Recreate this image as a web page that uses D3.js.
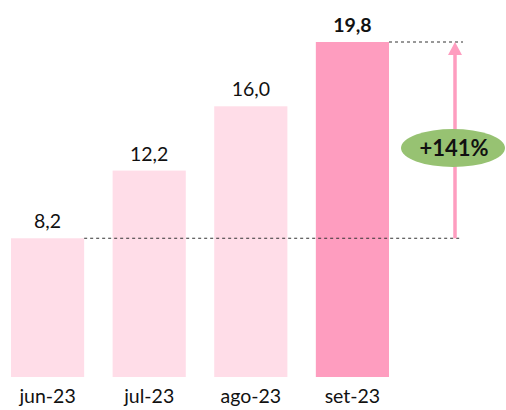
<!DOCTYPE html>
<html>
<head>
<meta charset="utf-8">
<script src="https://cdn.jsdelivr.net/npm/d3@7"></script>
<style>
  body { margin: 0; background: #fff; }
  svg text { font-family: Lato, "Noto Sans", sans-serif; fill: #111; }
</style>
</head>
<body>
<svg id="grafico" width="506" height="410"></svg>
<script>
const meses = ["jun-23", "jul-23", "ago-23", "set-23"];
const valores = [8.2, 12.2, 16.0, 19.8];
const rotulos = ["8,2", "12,2", "16,0", "19,8"];
const variacao = "+141%";

const svg = d3.select("#grafico");
const baseY = 377;

const xScale = d3.scaleBand()
    .domain(meses)
    .range([11, 389])
    .paddingInner(0.28)
    .paddingOuter(0);

const yScale = d3.scaleLinear()
    .domain([0, 19.8])
    .range([baseY, 42]);

const dados = meses.map((m, i) => ({ mes: m, valor: valores[i], rotulo: rotulos[i] }));

// barras
svg.selectAll("rect.barra")
    .data(dados)
    .enter()
    .append("rect")
    .attr("class", "barra")
    .attr("x", d => xScale(d.mes))
    .attr("y", d => yScale(d.valor))
    .attr("width", xScale.bandwidth())
    .attr("height", d => baseY - yScale(d.valor))
    .attr("fill", (d, i) => i === dados.length - 1 ? "#fe9dbf" : "#ffdde8");

// rotulos de valor
svg.selectAll("text.valor")
    .data(dados)
    .enter()
    .append("text")
    .attr("class", "valor")
    .attr("x", d => xScale(d.mes) + xScale.bandwidth() / 2)
    .attr("y", d => yScale(d.valor) - 10)
    .attr("text-anchor", "middle")
    .attr("font-size", 19.5)
    .attr("font-weight", (d, i) => i === dados.length - 1 ? "bold" : "normal")
    .text(d => d.rotulo);

// eixo x
const xAxis = d3.axisBottom(xScale).tickSize(0).tickPadding(12);
const gx = svg.append("g")
    .attr("transform", `translate(0, ${baseY})`)
    .call(xAxis);
gx.select(".domain").remove();
gx.selectAll("text")
    .attr("font-size", 19.5)
    .attr("fill", "#111")
    .style("font-family", "Lato, 'Noto Sans', sans-serif");

// linhas tracejadas
const primeiro = dados[0];
const ultimo = dados[dados.length - 1];
const setaX = 455;

svg.append("line")
    .attr("x1", xScale(ultimo.mes) + xScale.bandwidth())
    .attr("x2", setaX + 8)
    .attr("y1", yScale(ultimo.valor))
    .attr("y2", yScale(ultimo.valor))
    .attr("stroke", "#333")
    .attr("stroke-width", 1)
    .attr("stroke-dasharray", "3,3");

svg.append("line")
    .attr("x1", xScale(primeiro.mes) + xScale.bandwidth())
    .attr("x2", setaX + 5)
    .attr("y1", yScale(primeiro.valor))
    .attr("y2", yScale(primeiro.valor))
    .attr("stroke", "#333")
    .attr("stroke-width", 1)
    .attr("stroke-dasharray", "3,3");

// seta
svg.append("line")
    .attr("x1", setaX)
    .attr("x2", setaX)
    .attr("y1", yScale(primeiro.valor))
    .attr("y2", yScale(ultimo.valor) + 12)
    .attr("stroke", "#fe9dbf")
    .attr("stroke-width", 3.5);

const topo = yScale(ultimo.valor);
svg.append("path")
    .attr("d", `M${setaX},${topo} L${setaX + 7},${topo + 13} L${setaX - 7},${topo + 13} Z`)
    .attr("fill", "#fe9dbf");

// etiqueta de variacao
const cy = 148;
svg.append("ellipse")
    .attr("cx", setaX - 2)
    .attr("cy", cy)
    .attr("rx", 52)
    .attr("ry", 19)
    .attr("fill", "#97c272");

svg.append("text")
    .attr("x", setaX - 1)
    .attr("y", cy + 8)
    .attr("text-anchor", "middle")
    .attr("font-size", 22)
    .attr("font-weight", "bold")
    .text(variacao);
</script>
</body>
</html>
